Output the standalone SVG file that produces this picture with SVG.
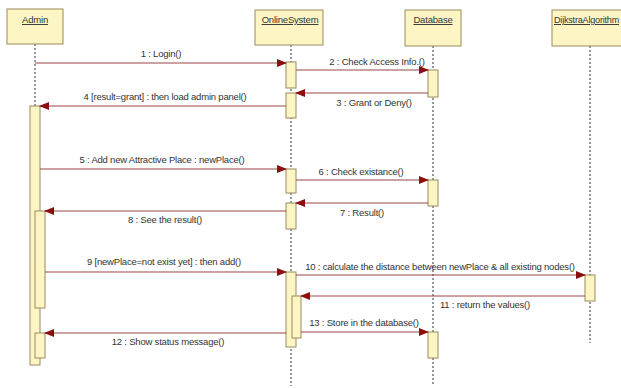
<svg xmlns="http://www.w3.org/2000/svg" width="621" height="388" viewBox="0 0 621 388">
<style>
.box{fill:#fdf5c4;stroke:#9c8a5c;stroke-width:1}
.act{fill:#fdf5c4;stroke:#9c8a5c;stroke-width:1}
.life{stroke:#333;stroke-width:1;stroke-dasharray:2,2;fill:none}
.msg{stroke:#9a4545;stroke-width:1.2;fill:none;marker-end:url(#ah)}
.t{font-family:"Liberation Sans",Arial,sans-serif;font-size:9.5px;fill:#333;letter-spacing:-0.2px;text-anchor:middle}
.h{text-decoration:underline}
</style>
<defs>
<marker id="ah" markerWidth="10" markerHeight="8" refX="9" refY="4" orient="auto" markerUnits="userSpaceOnUse">
<path d="M0,0 L10,4 L0,8 Z" fill="#8b0f0f"/>
</marker>
</defs>
<rect width="621" height="388" fill="#fff"/>
<g id="lifelines">
<line class="life" x1="35" y1="44" x2="35" y2="106"/>
<line class="life" x1="291" y1="45" x2="291" y2="386"/>
<line class="life" x1="433" y1="46" x2="433" y2="386"/>
<line class="life" x1="590" y1="46" x2="590" y2="343"/>
</g>
<g id="Admin">
<rect class="box" x="7" y="9" width="56" height="35"/>
<text class="t h" x="35" y="23">Admin</text>
<rect class="act" x="30" y="106" width="10" height="259"/>
<rect class="act" x="35" y="211" width="10" height="97"/>
<rect class="act" x="35" y="333" width="10" height="25"/>
</g>
<g id="OnlineSystem">
<rect class="box" x="255" y="10" width="68" height="35"/>
<text class="t h" x="290" y="23">OnlineSystem</text>
<rect class="act" x="286" y="62" width="10" height="26"/>
<rect class="act" x="286" y="93" width="10" height="25"/>
<rect class="act" x="286" y="169" width="10" height="24"/>
<rect class="act" x="286" y="203" width="10" height="26"/>
<rect class="act" x="286" y="272" width="10" height="75"/>
<rect class="act" x="292" y="296" width="9" height="42"/>
</g>
<g id="Database">
<rect class="box" x="405" y="10" width="56" height="36"/>
<text class="t h" x="433" y="23">Database</text>
<rect class="act" x="428" y="70" width="10" height="27"/>
<rect class="act" x="428" y="180" width="10" height="26"/>
<rect class="act" x="428" y="332" width="10" height="26"/>
</g>
<g id="DijkstraAlgorithm">
<rect class="box" x="552" y="10" width="80" height="36"/>
<text class="t h" x="554" y="23" style="text-anchor:start" textLength="65" lengthAdjust="spacingAndGlyphs">DijkstraAlgorithm</text>
<rect class="act" x="585" y="275" width="10" height="26"/>
</g>
<g id="connectors">
<line class="msg" x1="35" y1="63" x2="286" y2="63"/>
<text class="t" x="161" y="57">1 : Login()</text>
<line class="msg" x1="296" y1="70" x2="428" y2="70"/>
<text class="t" x="377" y="65">2 : Check Access Info.()</text>
<line class="msg" x1="428" y1="93" x2="296" y2="93"/>
<text class="t" x="374" y="106">3 : Grant or Deny()</text>
<line class="msg" x1="286" y1="106" x2="40" y2="106"/>
<text class="t" x="165" y="100">4 [result=grant] : then load admin panel()</text>
<line class="msg" x1="40" y1="169" x2="286" y2="169"/>
<text class="t" x="162" y="163">5 : Add new Attractive Place : newPlace()</text>
<line class="msg" x1="296" y1="180" x2="428" y2="180"/>
<text class="t" x="361" y="175">6 : Check existance()</text>
<line class="msg" x1="428" y1="203" x2="296" y2="203"/>
<text class="t" x="362" y="216">7 : Result()</text>
<line class="msg" x1="286" y1="211" x2="45" y2="211"/>
<text class="t" x="165" y="223">8 : See the result()</text>
<line class="msg" x1="45" y1="272" x2="286" y2="272"/>
<text class="t" x="164" y="265">9 [newPlace=not exist yet] : then add()</text>
<line class="msg" x1="296" y1="275" x2="585" y2="275"/>
<text class="t" x="440" y="270">10 : calculate the distance between newPlace &amp; all existing nodes()</text>
<line class="msg" x1="585" y1="296" x2="301" y2="296"/>
<text class="t" x="485" y="308">11 : return the values()</text>
<line class="msg" x1="301" y1="332" x2="428" y2="332"/>
<text class="t" x="364" y="326">13 : Store in the database()</text>
<line class="msg" x1="286" y1="333" x2="45" y2="333"/>
<text class="t" x="168" y="345">12 : Show status message()</text>
</g>
</svg>
